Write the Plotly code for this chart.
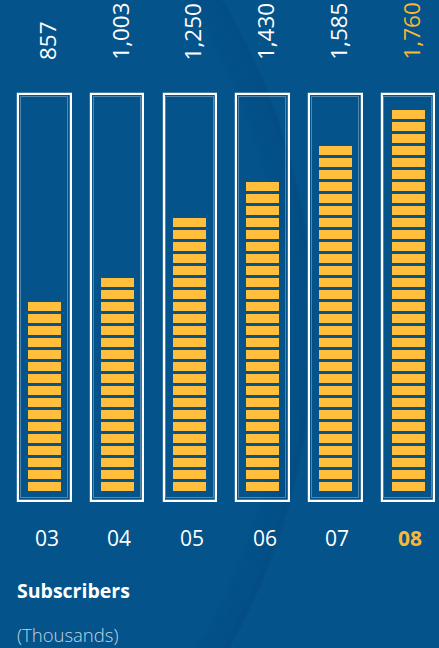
import plotly.graph_objects as go

# Subscribers per year, in thousands
years = ["03", "04", "05", "06", "07", "08"]
subscribers = [857, 1003, 1250, 1430, 1585, 1760]
value_labels = ["857", "1,003", "1,250", "1,430", "1,585", "1,760"]

# Styling
BG = "#04538b"
YELLOW = "#ffbf3c"
HIGHLIGHT = "#f8b835"
WHITE = "#ffffff"
FONT = "Open Sans"

W, H = 439, 648
PX_PER_UNIT_X = 72.7          # horizontal pitch between columns
X0_PX = 44.5                  # centre of the first column
BLOCK = 55                    # thousands represented by one block
BLOCK_PX = 12                 # vertical pitch of one block
K = BLOCK_PX / BLOCK          # pixels per thousand
BASE_PX = 491                 # pixel row of the zero line
FRAME_TOP = 1818
FRAME_BOTTOM = -44
INSET = 2.5 / K

idx = list(range(len(years)))

fig = go.Figure()

# Outer column frames
fig.add_trace(go.Bar(
    x=idx, y=[FRAME_TOP - FRAME_BOTTOM] * len(idx), base=FRAME_BOTTOM,
    width=52.4 / PX_PER_UNIT_X,
    marker=dict(color="rgba(0,0,0,0)", line=dict(color=WHITE, width=2.2)),
    hoverinfo="skip", showlegend=False,
))
# Faint inner frame line
fig.add_trace(go.Bar(
    x=idx, y=[FRAME_TOP - FRAME_BOTTOM - 2 * INSET] * len(idx), base=FRAME_BOTTOM + INSET,
    width=(52.4 - 5) / PX_PER_UNIT_X,
    marker=dict(color="rgba(0,0,0,0)", line=dict(color="rgba(255,255,255,0.3)", width=1)),
    hoverinfo="skip", showlegend=False,
))

# Stacked blocks, one per BLOCK thousand subscribers
bx, bbase, by = [], [], []
for i, v in zip(idx, subscribers):
    n = round(v / BLOCK)
    for k in range(n):
        bx.append(i)
        bbase.append(k * BLOCK)
        by.append(BLOCK * 0.76)
fig.add_trace(go.Bar(
    x=bx, y=by, base=bbase, width=33 / PX_PER_UNIT_X,
    marker=dict(color=YELLOW, line=dict(width=0)),
    hoverinfo="skip", showlegend=False,
))

# Rotated value labels and year labels
for i, (lab, yr) in enumerate(zip(value_labels, years)):
    last = i == len(years) - 1
    fig.add_annotation(
        x=i, y=(BASE_PX - 62) / K, text=lab, textangle=-90,
        xanchor="center", yanchor="bottom", showarrow=False, xshift=3,
        font=dict(family=FONT, size=22.5, color=HIGHLIGHT if last else WHITE),
    )
    fig.add_annotation(
        x=i, y=(BASE_PX - 538) / K, text=f"<b>{yr}</b>" if last else yr,
        xanchor="center", yanchor="middle", showarrow=False, xshift=2,
        font=dict(family=FONT, size=21, color=HIGHLIGHT if last else WHITE),
    )

fig.add_annotation(
    xref="paper", yref="paper", x=15 / W, y=1 - 590 / H, text="<b>Subscribers</b>",
    xanchor="left", yanchor="middle", showarrow=False,
    font=dict(family=FONT, size=19.5, color=WHITE),
)
fig.add_annotation(
    xref="paper", yref="paper", x=15 / W, y=1 - 634 / H, text="(Thousands)",
    xanchor="left", yanchor="middle", showarrow=False,
    font=dict(family=FONT, size=18.5, weight=300, color="rgba(255,255,255,0.75)"),
)

# Large background arc with a soft dark edge
cx, cy, R = -330, 330, 642
for j in range(10):
    r = R - j * 3
    fig.add_shape(
        type="circle", xref="paper", yref="paper", layer="below",
        x0=(cx - r) / W, x1=(cx + r) / W,
        y0=1 - (cy + r) / H, y1=1 - (cy - r) / H,
        line=dict(color=f"rgba(0,35,80,{0.10 - j * 0.009:.3f})", width=3),
        fillcolor="rgba(0,0,0,0)",
    )

fig.update_layout(
    width=W, height=H,
    margin=dict(l=0, r=0, t=0, b=0),
    paper_bgcolor=BG, plot_bgcolor="rgba(0,0,0,0)",
    barmode="overlay", bargap=0,
    xaxis=dict(range=[-X0_PX / PX_PER_UNIT_X, (W - X0_PX) / PX_PER_UNIT_X],
               visible=False, fixedrange=True),
    yaxis=dict(range=[(BASE_PX - H) / K, BASE_PX / K], visible=False, fixedrange=True),
)

fig.write_html("out.html")
